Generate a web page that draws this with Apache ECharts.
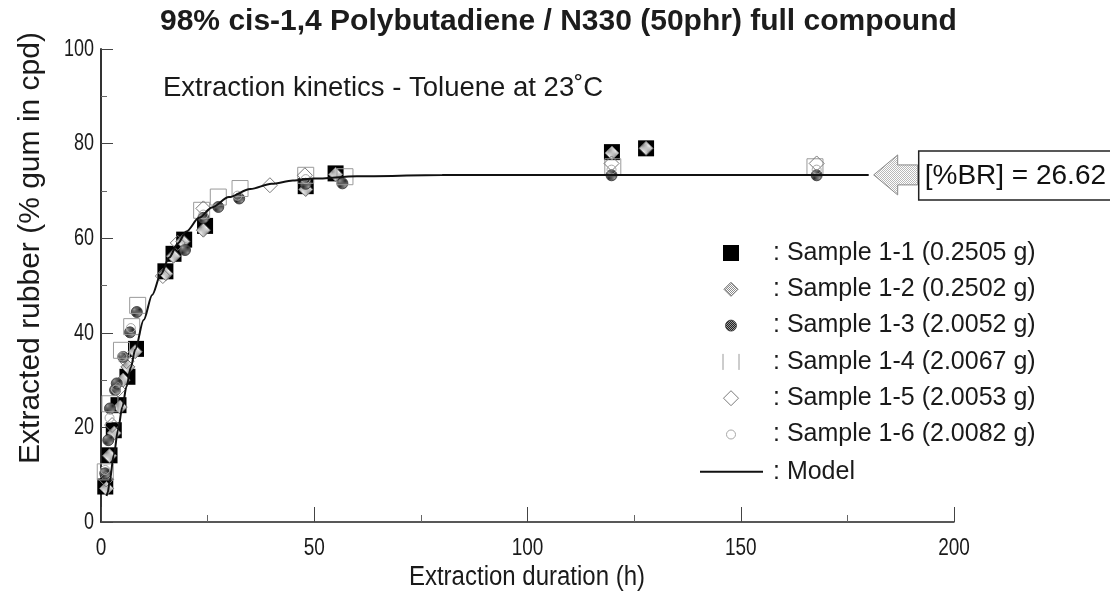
<!DOCTYPE html>
<html>
<head>
<meta charset="utf-8">
<script src="https://cdn.jsdelivr.net/npm/echarts@6/dist/echarts.min.js"></script>
<style>
  html, body { margin: 0; padding: 0; background: #fff; }
  #chart { width: 1110px; height: 600px; }
</style>
</head>
<body>
<div id="chart"></div>
<script>
// Extraction duration (h) and extracted rubber (% gum in compound) per sample
const hours11 = [1, 2, 3, 4.1, 6.2, 8.2, 15.1, 17, 19.5, 24.4, 48, 55, 119.8, 127.8];
const rubber11 = [7.5, 14.1, 19.4, 24.7, 30.7, 36.6, 53, 56.7, 59.7, 62.6, 71, 73.7, 78.2, 79];

const hours12 = [1.3, 2, 3.1, 4.5, 5.2, 6.3, 8, 15.2, 17, 19.2, 24, 48, 55, 119.8, 127.8];
const rubber12 = [7.1, 14, 18.8, 24.3, 30, 32.8, 36, 52.5, 56.2, 59.3, 61.7, 70.3, 73.5, 78, 79];

const hours13 = [1, 1.7, 2.1, 3.3, 3.7, 5.2, 6.8, 8.4, 19.7, 24, 27.5, 32.4, 48, 56.6, 119.7, 167.8];
const rubber13 = [10.3, 17.3, 24, 27.9, 29.3, 34.9, 40.1, 44.4, 57.5, 64.3, 66.6, 68.4, 71.5, 71.6, 73.3, 73.3];

const hours14 = [1, 2.1, 4.8, 7.2, 8.6, 23.6, 27.5, 32.6, 48, 57.2, 120, 167.4];
const rubber14 = [10.6, 25, 36.3, 41.3, 45.8, 65.9, 68.7, 70.5, 73.3, 73, 75.1, 75.1];

const hours15 = [1.2, 2.6, 4, 6, 14.5, 18, 24, 39.6, 47.8, 119.7, 167.8];
const rubber15 = [9, 20.5, 28, 34, 52, 59, 66.3, 71.2, 73.3, 75.8, 75.8];

const hours16 = [1, 2, 3.5, 5, 7, 24, 32, 48, 119.7, 167.8];
const rubber16 = [11, 22, 28, 35, 41, 65, 69, 72.5, 74.5, 74.5];

// Model curve
const modelHours = [1.3, 1.6, 2, 3, 4, 5, 6, 7, 8, 10, 12, 14, 16, 18, 20, 23, 26, 30, 35, 40, 45, 50, 60, 80, 100, 130, 160, 180];
const modelRubber = [5.5, 6.3, 8.4, 14.2, 19.5, 24.3, 28.7, 32.7, 36.4, 42.7, 48.0, 52.3, 55.9, 58.9, 61.4, 64.3, 66.5, 68.7, 70.4, 71.5, 72.2, 72.6, 73.1, 73.35, 73.38, 73.38, 73.38, 73.38];

const sampleNames = [
  'Sample 1-1 (0.2505 g)', 'Sample 1-2 (0.2502 g)', 'Sample 1-3 (2.0052 g)',
  'Sample 1-4 (2.0067 g)', 'Sample 1-5 (2.0053 g)', 'Sample 1-6 (2.0082 g)'
];
const modelName = 'Model';
const brPercent = 26.62;
const xTicks = [0, 50, 100, 150, 200];
const yTicks = [0, 20, 40, 60, 80, 100];

const FONT = '"Liberation Sans", Arial, sans-serif';

// dithered fills
function dither(a, b) {
  const c = document.createElement('canvas');
  c.width = 2; c.height = 2;
  const g = c.getContext('2d');
  g.fillStyle = a; g.fillRect(0, 0, 2, 2);
  g.fillStyle = b; g.fillRect(0, 0, 1, 1); g.fillRect(1, 1, 1, 1);
  return { image: c, repeat: 'repeat' };
}
const greyDither = dither('#ffffff', '#8a8a8a');
const darkDither = dither('#222222', '#9a9a9a');
const arrowDither = dither('#ffffff', '#b8b8b8');

function pairs(xs, ys) { return xs.map((x, i) => [x, ys[i]]); }

const styles = [
  { symbol: 'rect', size: 16, color: '#000', border: '#000', bw: 0 },
  { symbol: 'diamond', size: 14, color: greyDither, border: '#6d6d6d', bw: 1 },
  { symbol: 'circle', size: 11, color: darkDither, border: '#333', bw: 0.8 },
  { symbol: 'rect', size: 16, color: 'rgba(0,0,0,0)', border: '#9a9a9a', bw: 1 },
  { symbol: 'diamond', size: 15, color: 'rgba(0,0,0,0)', border: '#7a7a7a', bw: 1 },
  { symbol: 'circle', size: 9, color: 'rgba(0,0,0,0)', border: '#a8a8a8', bw: 1 }
];
const sampleData = [
  pairs(hours11, rubber11), pairs(hours12, rubber12), pairs(hours13, rubber13),
  pairs(hours14, rubber14), pairs(hours15, rubber15), pairs(hours16, rubber16)
];

const series = sampleData.map((d, i) => ({
  type: 'scatter',
  name: sampleNames[i],
  data: d,
  symbol: styles[i].symbol,
  symbolSize: styles[i].size,
  itemStyle: { color: styles[i].color, borderColor: styles[i].border, borderWidth: styles[i].bw, opacity: 1 },
  z: 2 + i,
  silent: true
}));
series.push({
  type: 'line',
  name: modelName,
  data: pairs(modelHours, modelRubber),
  showSymbol: false,
  smooth: 0.3,
  smoothMonotone: 'x',
  lineStyle: { color: '#111', width: 2 },
  z: 10,
  silent: true
});

const chart = echarts.init(document.getElementById('chart'), null, { renderer: 'canvas' });

chart.setOption({
  animation: false,
  backgroundColor: '#fff',
  grid: { left: 101, right: 156, top: 49, bottom: 78 },
  xAxis: {
    type: 'value', min: 0, max: 200, interval: 50,
    axisLine: { lineStyle: { color: '#222', width: 1.5 } },
    axisTick: { inside: true, length: 15, lineStyle: { color: '#444', width: 1 } },
    minorTick: { show: true, splitNumber: 2, length: 7, lineStyle: { color: '#666' } },
    splitLine: { show: false },
    axisLabel: { show: false }
  },
  yAxis: {
    type: 'value', min: 0, max: 100, interval: 20,
    axisLine: { lineStyle: { color: '#333', width: 2 } },
    axisTick: { inside: true, length: 12, lineStyle: { color: '#444', width: 1 } },
    minorTick: { show: true, splitNumber: 2, length: 6, lineStyle: { color: '#666' } },
    splitLine: { show: false },
    axisLabel: { show: false }
  },
  series: series
});

const graphics = [];
function txt(x, y, text, size, opts) {
  opts = opts || {};
  graphics.push({
    type: 'text', x: x, y: y, rotation: opts.rotation || 0,
    scaleX: opts.sx || 1, scaleY: opts.sy || 1,
    style: { text: text, font: (opts.weight || 'normal') + ' ' + size + 'px ' + FONT,
      fill: opts.fill || '#1a1a1a', textAlign: opts.align || 'left', textVerticalAlign: 'middle' }
  });
}

// tick labels, placed through the axis scales
xTicks.forEach(v => {
  const px = chart.convertToPixel({ xAxisIndex: 0 }, v);
  txt(px, 548, String(v), 19, { align: 'center', sy: 1.3 });
});
yTicks.forEach(v => {
  const py = chart.convertToPixel({ yAxisIndex: 0 }, v);
  txt(94, py, String(v), 18, { align: 'right', sy: 1.35 });
});

// titles
txt(160, 22, '98% cis-1,4 Polybutadiene / N330 (50phr) full compound', 30, { weight: 'bold', fill: '#1c1c1c' });
txt(163, 88, 'Extraction kinetics - Toluene at 23˚C', 27.5, {});
txt(527, 577, 'Extraction duration (h)', 24, { align: 'center', sy: 1.15 });
txt(31, 248, 'Extracted rubber (% gum in cpd)', 30, { align: 'center', rotation: Math.PI / 2 });

// arrow pointing at the plateau
const plateau = modelRubber[modelRubber.length - 1];
const py = chart.convertToPixel({ yAxisIndex: 0 }, plateau);
const lineEnd = chart.convertToPixel({ xAxisIndex: 0 }, modelHours[modelHours.length - 1]);
const ax = lineEnd + 5;
graphics.push({
  type: 'polygon',
  shape: { points: [[ax, py], [ax + 24, py - 20], [ax + 24, py - 10], [ax + 44, py - 10],
                    [ax + 44, py + 10], [ax + 24, py + 10], [ax + 24, py + 20]] },
  style: { fill: arrowDither, stroke: '#888', lineWidth: 1 }
});
graphics.push({
  type: 'rect', shape: { x: ax + 45, y: py - 24, width: 240, height: 49 },
  style: { fill: '#fff', stroke: '#222', lineWidth: 1.5 }
});
txt(ax + 51, py + 1, '[%BR] = ' + brPercent.toFixed(2), 28, { fill: '#111' });

// legend
const legX = 731, legY = 253, legStep = 36.3, legTextX = 773;
styles.forEach((s, i) => {
  const y = legY + i * legStep;
  const common = { style: { fill: s.color, stroke: s.bw ? s.border : null, lineWidth: s.bw } };
  if (i === 3) {
    // open square drawn with its sides only
    const h = s.size / 2;
    graphics.push({ type: 'line', shape: { x1: legX - h, y1: y - h, x2: legX - h, y2: y + h }, style: { stroke: s.border, lineWidth: 1 } });
    graphics.push({ type: 'line', shape: { x1: legX + h, y1: y - h, x2: legX + h, y2: y + h }, style: { stroke: s.border, lineWidth: 1 } });
  } else if (s.symbol === 'rect') {
    graphics.push(Object.assign({ type: 'rect', shape: { x: legX - s.size / 2, y: y - s.size / 2, width: s.size, height: s.size } }, common));
  } else if (s.symbol === 'diamond') {
    const h = s.size / 2;
    graphics.push(Object.assign({ type: 'polygon', shape: { points: [[legX, y - h], [legX + h, y], [legX, y + h], [legX - h, y]] } }, common));
  } else {
    graphics.push(Object.assign({ type: 'circle', shape: { cx: legX, cy: y, r: s.size / 2 } }, common));
  }
  txt(legTextX, y, ': ' + sampleNames[i], 25, { });
});
const my = legY + 6 * legStep + 1;
graphics.push({ type: 'line', shape: { x1: 700, y1: my, x2: 763, y2: my }, style: { stroke: '#111', lineWidth: 2 } });
txt(legTextX, my, ': ' + modelName, 25, {});

chart.setOption({ graphic: graphics });
</script>
</body>
</html>
